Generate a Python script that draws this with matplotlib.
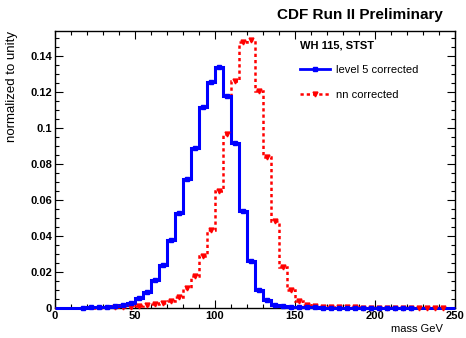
"""
plot.py: CDF WH 115 mass distributions, level 5 vs nn corrected
"""
import numpy as np
import matplotlib
matplotlib.use("Agg")
import matplotlib.pyplot as plt
from matplotlib.ticker import MultipleLocator

plt.rcParams["font.family"] = ["Liberation Sans", "DejaVu Sans"]

# 5 GeV bins from 0 to 250
bin_edges = np.arange(0, 255, 5)

# level 5 corrected (blue), one value per bin, starting at 0 GeV
level5 = [0, 0, 0, 0.0002, 0.0003, 0.0005, 0.0007, 0.001, 0.0015, 0.0028,
          0.0055, 0.009, 0.0155, 0.024, 0.038, 0.053, 0.0715, 0.089, 0.1115, 0.1257,
          0.134, 0.118, 0.0918, 0.054, 0.026, 0.010, 0.0044, 0.0017, 0.0012, 0.0008,
          0.0006, 0.0004, 0.0003, 0.0002, 0.0002, 0.0002, 0.0001, 0.0001, 0.0001, 0.0001,
          0.0001, 0.0001, 0.0001, 0.0001, 0.0001, 0, 0, 0, 0, 0]

# nn corrected (red)
nncorr = [0, 0, 0, 0, 0, 0, 0, 0.0003, 0.0005, 0.0008,
          0.0013, 0.0017, 0.0022, 0.003, 0.0039, 0.0063, 0.011, 0.0176, 0.0289, 0.0433,
          0.065, 0.0965, 0.126, 0.148, 0.149, 0.1206, 0.084, 0.0485, 0.023, 0.010,
          0.004, 0.0017, 0.0011, 0.0007, 0.0005, 0.0004, 0.0003, 0.0003, 0.0002, 0.0002,
          0.0002, 0.0002, 0.0001, 0.0001, 0.0001, 0.0001, 0.0001, 0.0001, 0.0001, 0]

BLUE = "#0000ff"
RED = "#ff0000"

fig = plt.figure(figsize=(4.66, 3.38), dpi=100)
ax = fig.add_axes([55 / 466, 30 / 338, 400 / 466, 277 / 338])

centers = 0.5 * (bin_edges[:-1] + bin_edges[1:])
l5 = np.array(level5)
nn = np.array(nncorr)

red_dash = (0, (1.3, 1.2))
ax.stairs(nn, bin_edges, color=RED, lw=1.8, ls=red_dash, baseline=None,
          zorder=3, clip_on=False)
ax.stairs(l5, bin_edges, color=BLUE, lw=2.2, baseline=None, zorder=3,
          clip_on=False)
ax.plot(centers[nn > 0], nn[nn > 0], "v", color=RED, ms=3.5, ls="none",
        zorder=4, clip_on=False)
ax.plot(centers[l5 > 0], l5[l5 > 0], "s", color=BLUE, ms=3.5, ls="none",
        zorder=4, clip_on=False)

# legend handles only
h1, = ax.plot([], [], "-s", color=BLUE, lw=2, ms=3.5, label="level 5 corrected")
h2, = ax.plot([], [], "v", color=RED, lw=1.8, ls=red_dash, ms=3.5, label="nn corrected")
leg = ax.legend(handles=[h1, h2], title="WH 115, STST", loc="upper left",
                bbox_to_anchor=(0.6125, 0.965), frameon=False, fontsize=8,
                title_fontproperties={"size": 8, "weight": "bold"},
                alignment="left", borderpad=0, borderaxespad=0,
                handlelength=2.7, handletextpad=0.5, labelspacing=1.3,
                numpoints=1)

ax.set_xlim(0, 250)
ax.set_ylim(0, 0.154)
ax.xaxis.set_major_locator(MultipleLocator(50))
ax.xaxis.set_minor_locator(MultipleLocator(10))
ax.yaxis.set_major_locator(MultipleLocator(0.02))
ax.yaxis.set_minor_locator(MultipleLocator(0.005))
ax.set_yticks(np.arange(0, 0.15, 0.02))
ax.set_yticklabels(["0", "0.02", "0.04", "0.06", "0.08", "0.1", "0.12", "0.14"])
ax.tick_params(which="both", direction="in", top=True, right=True,
               labelsize=8, width=0.8, pad=2)
ax.tick_params(which="major", length=6)
ax.tick_params(which="minor", length=3)
for lab in ax.get_xticklabels() + ax.get_yticklabels():
    lab.set_fontweight("bold")
for s in ax.spines.values():
    s.set_linewidth(1)

fig.text(443 / 466, 1 - 15 / 338, "CDF Run II Preliminary", ha="right",
         va="center", fontsize=11, fontweight="bold")
fig.text(12 / 466, 1 - 31 / 338, "normalized to unity", rotation=90,
         ha="center", va="top", fontsize=9.5)
fig.text(443 / 466, 1 - 329 / 338, "mass GeV", ha="right", va="center",
         fontsize=8)

fig.savefig("out.png", dpi=100)
